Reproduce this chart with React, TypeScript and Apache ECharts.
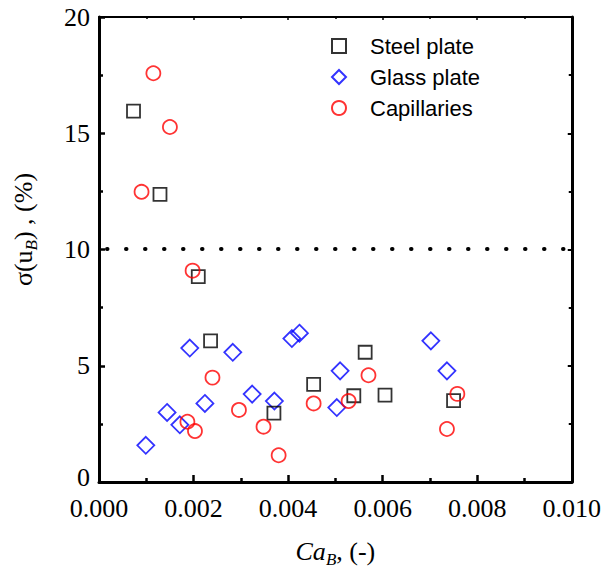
import React, { useEffect, useRef } from "react";
import * as echarts from "echarts";

const steelX = [0.00073, 0.00129, 0.0021, 0.00236, 0.0037, 0.00454, 0.00539, 0.00563, 0.00605, 0.0075];
const steelY = [15.95, 12.37, 8.83, 6.07, 2.96, 4.2, 3.71, 5.58, 3.74, 3.5];

const glassX = [0.00099, 0.00144, 0.00171, 0.00192, 0.00224, 0.00283, 0.00324, 0.00371, 0.00408, 0.00424, 0.00503, 0.0051, 0.00702, 0.00736];
const glassY = [1.58, 2.99, 2.46, 5.76, 3.38, 5.58, 3.78, 3.48, 6.17, 6.4, 3.2, 4.78, 6.07, 4.78];

const capX = [0.0009, 0.00115, 0.0015, 0.00187, 0.00198, 0.00203, 0.0024, 0.00296, 0.00348, 0.0038, 0.00454, 0.00528, 0.0057, 0.00736, 0.00758];
const capY = [12.48, 17.58, 15.27, 2.59, 9.09, 2.19, 4.49, 3.1, 2.38, 1.15, 3.38, 3.48, 4.59, 2.28, 3.79];

const seriesNames = ["Steel plate", "Glass plate", "Capillaries"];
const thresholdY = 10.05;

const serif = "'Liberation Serif', 'Times New Roman', serif";
const sans = "'Liberation Sans', Arial, sans-serif";

const zip = (xs: number[], ys: number[]) => xs.map((x, i) => [x, ys[i]]);

export default function App() {
  const ref = useRef<HTMLDivElement>(null);
  useEffect(() => {
    if (!ref.current) return;
    const chart = echarts.init(ref.current, null, { renderer: "svg" });
    const richBase = {
      n: { fontFamily: serif, fontSize: 26, color: "#000" },
      i: { fontFamily: serif, fontSize: 26, fontStyle: "italic", color: "#000" },
      sub: { fontFamily: serif, fontSize: 17, fontStyle: "italic", color: "#000", padding: [16, 0, 0, 0] },
    };
    const axisCommon = {
      type: "value" as const,
      splitLine: { show: false },
    };
    chart.setOption({
      animation: false,
      backgroundColor: "#fff",
      grid: { left: 99, right: 31, top: 17, bottom: 85, containLabel: false },
      legend: {
        orient: "vertical",
        left: 326,
        top: 30,
        itemGap: 9,
        itemWidth: 14,
        itemHeight: 14,
        data: seriesNames,
        textStyle: { fontFamily: sans, fontSize: 22, color: "#000", padding: [0, 0, 0, 19] },
      },
      xAxis: [
        {
          ...axisCommon,
          position: "bottom",
          min: 0,
          max: 0.01,
          interval: 0.002,
          axisLine: { show: true, onZero: false, lineStyle: { color: "#000", width: 3 } },
          axisTick: { show: true, inside: true, length: 7, lineStyle: { color: "#000", width: 2.5 } },
          minorTick: { show: true, splitNumber: 2, length: 4, lineStyle: { color: "#000", width: 2.5 } },
          axisLabel: {
            color: "#000",
            fontFamily: serif,
            fontSize: 26,
            lineHeight: 22,
            margin: 15,
            formatter: (v: number) => v.toFixed(3),
          },
          name: "{i|Ca}{sub|B}{n|, (-)}",
          nameLocation: "middle",
          nameGap: 53,
          nameTextStyle: { rich: richBase },
        },
        {
          ...axisCommon,
          position: "top",
          min: 0,
          max: 0.01,
          interval: 0.002,
          axisLine: { show: true, onZero: false, lineStyle: { color: "#000", width: 2 } },
          axisTick: { show: true, inside: true, length: 3, lineStyle: { color: "#000", width: 1.5 } },
          minorTick: { show: true, splitNumber: 2, length: 2, lineStyle: { color: "#000", width: 1.5 } },
          axisLabel: { show: false },
        },
      ],
      yAxis: [
        {
          ...axisCommon,
          position: "left",
          min: 0,
          max: 20,
          interval: 5,
          axisLine: { show: true, onZero: false, lineStyle: { color: "#000", width: 3 } },
          axisTick: { show: true, inside: true, length: 6, lineStyle: { color: "#000", width: 2.5 } },
          minorTick: { show: true, splitNumber: 2, length: 4, lineStyle: { color: "#000", width: 2.5 } },
          axisLabel: {
            color: "#000",
            fontFamily: serif,
            fontSize: 26,
            lineHeight: 20,
            margin: 9,
            formatter: (v: number) => (v === 0 ? "{z|0}" : String(v)),
            rich: {
              z: { fontFamily: serif, fontSize: 26, lineHeight: 20, color: "#000", padding: [0, 0, 10, 0] },
            },
          },
          name: "{n|σ(u}{sub|B}{n|) , (%)}",
          nameLocation: "middle",
          nameRotate: 90,
          nameGap: 59,
          nameTextStyle: { rich: richBase, padding: [0, 0, 0, 40] },
        },
        {
          ...axisCommon,
          position: "right",
          min: 0,
          max: 20,
          interval: 5,
          axisLine: { show: true, onZero: false, lineStyle: { color: "#000", width: 3 } },
          axisTick: { show: true, inside: true, length: 4, lineStyle: { color: "#000", width: 2 } },
          minorTick: { show: true, splitNumber: 2, length: 3, lineStyle: { color: "#000", width: 2 } },
          axisLabel: { show: false },
        },
      ],
      series: [
        {
          name: seriesNames[0],
          type: "scatter",
          symbol: "rect",
          symbolSize: 13,
          data: zip(steelX, steelY),
          itemStyle: { color: "rgba(0,0,0,0)", borderColor: "#000", borderWidth: 1.8 },
          z: 3,
          markLine: {
            silent: true,
            symbol: "none",
            label: { show: false },
            lineStyle: { color: "#000", width: 4, type: [0.5, 18.5], cap: "round", dashOffset: -8 },
            data: [{ yAxis: thresholdY }],
          },
        },
        {
          name: seriesNames[1],
          type: "scatter",
          symbol: "diamond",
          symbolSize: 17,
          data: zip(glassX, glassY),
          itemStyle: { color: "rgba(0,0,0,0)", borderColor: "#0000ff", borderWidth: 1.8 },
          z: 2,
        },
        {
          name: seriesNames[2],
          type: "scatter",
          symbol: "circle",
          symbolSize: 14,
          data: zip(capX, capY),
          itemStyle: { color: "rgba(0,0,0,0)", borderColor: "#ff0000", borderWidth: 1.8 },
          z: 4,
        },
      ],
    });
    return () => chart.dispose();
  }, []);
  return (
    <div
      ref={ref}
      style={{ position: "absolute", left: 0, top: 0, width: 604, height: 573, background: "#fff" }}
    />
  );
}
